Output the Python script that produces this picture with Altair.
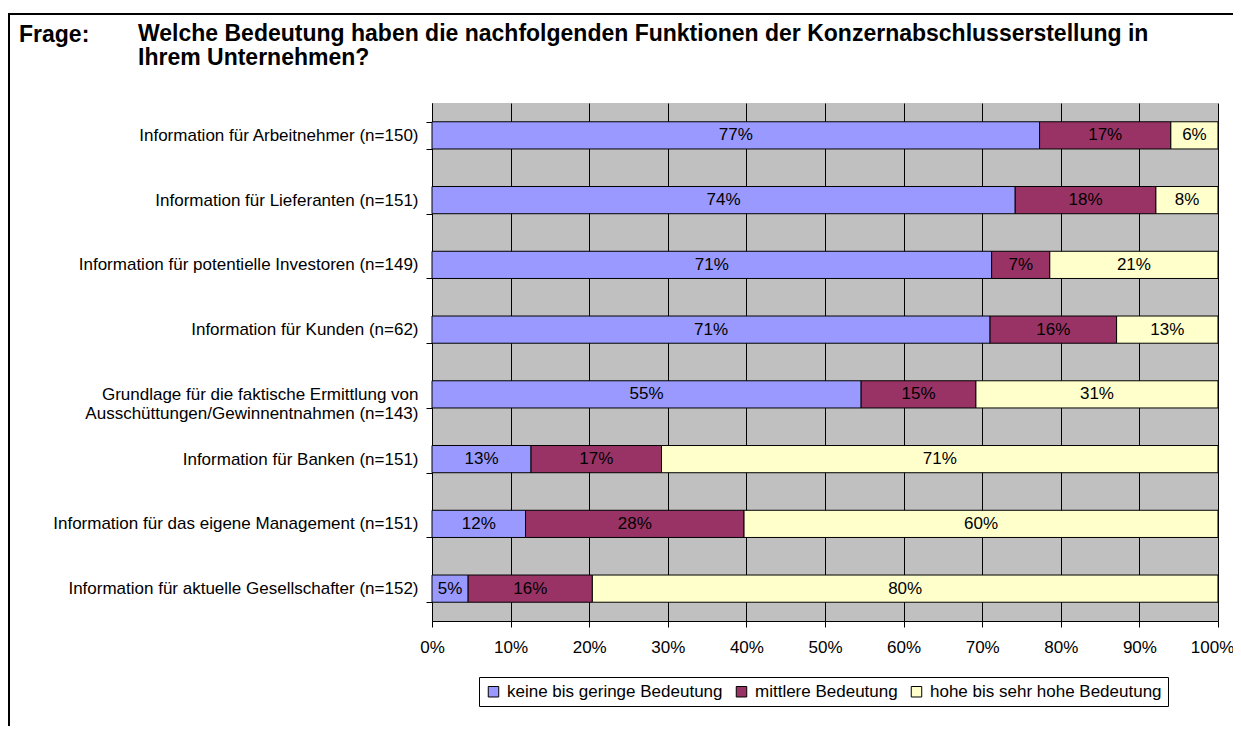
import altair as alt
import pandas as pd

categories = [
    "Information für Arbeitnehmer (n=150)",
    "Information für Lieferanten (n=151)",
    "Information für potentielle Investoren (n=149)",
    "Information für Kunden (n=62)",
    "Grundlage für die faktische Ermittlung von\nAusschüttungen/Gewinnentnahmen (n=143)",
    "Information für Banken (n=151)",
    "Information für das eigene Management (n=151)",
    "Information für aktuelle Gesellschafter (n=152)",
]
keine = [77.3, 74.2, 71.2, 71.0, 54.6, 12.6, 11.9, 4.6]
mittlere = [16.7, 17.9, 7.4, 16.1, 14.6, 16.6, 27.8, 15.8]
hohe = [6.0, 7.9, 21.4, 12.9, 30.8, 70.8, 60.3, 79.6]

series_names = ["keine bis geringe Bedeutung", "mittlere Bedeutung", "hohe bis sehr hohe Bedeutung"]
series_colors = ["#9999FF", "#993366", "#FFFFCC"]
x_ticks = [0, 10, 20, 30, 40, 50, 60, 70, 80, 90, 100]

frage_label = "Frage:"
question_lines = [
    "Welche Bedeutung haben die nachfolgenden Funktionen der Konzernabschlusserstellung in",
    "Ihrem Unternehmen?",
]

FONT = "Liberation Sans, Arial, Helvetica, sans-serif"

rows = []
for i, cat in enumerate(categories):
    for j, (name, vals) in enumerate(zip(series_names, [keine, mittlere, hohe])):
        rows.append({"cat": cat, "series": name, "order": j, "value": vals[i]})
df = pd.DataFrame(rows)

y_enc = alt.Y(
    "cat:N",
    sort=categories,
    scale=alt.Scale(paddingInner=0.58, paddingOuter=0.29),
    axis=alt.Axis(
        title=None,
        grid=False,
        domain=True,
        domainColor="black",
        domainWidth=1,
        ticks=True,
        tickBand="extent",
        tickSize=6,
        tickColor="black",
        labelFont=FONT,
        labelFontSize=17,
        labelColor="black",
        labelPadding=8,
        labelLimit=600,
        labelLineHeight=19,
        labelExpr="split(datum.label, '\\n')",
    ),
)

base = (
    alt.Chart(df)
    .transform_stack(
        stack="value",
        groupby=["cat"],
        as_=["x0", "x1"],
        sort=[alt.SortField("order", order="ascending")],
    )
    .transform_calculate(
        mid="(datum.x0 + datum.x1) / 2",
        lab="format(datum.value, '.0f') + '%'",
    )
)

bars = base.mark_bar(stroke="black", strokeWidth=1).encode(
    y=y_enc,
    x=alt.X(
        "x0:Q",
        scale=alt.Scale(domain=[0, 100], nice=False, zero=True),
        axis=alt.Axis(
            title=None,
            values=x_ticks,
            labelExpr="datum.value + '%'",
            grid=True,
            gridColor="black",
            gridWidth=1,
            domainColor="black",
            tickColor="black",
            tickSize=6,
            labelFont=FONT,
            labelFontSize=17,
            labelColor="black",
            labelPadding=12,
            labelFlush=False,
            labelOffset={"expr": "datum.value == 100 ? -6 : 0"},
        ),
    ),
    x2="x1:Q",
    color=alt.Color(
        "series:N",
        sort=series_names,
        scale=alt.Scale(domain=series_names, range=series_colors),
        legend=alt.Legend(
            title=None,
            orient="none",
            legendX=47,
            legendY=574,
            direction="horizontal",
            strokeColor="black",
            fillColor="white",
            padding=6,
            symbolType="square",
            symbolSize=110,
            symbolStrokeColor="black",
            symbolStrokeWidth=1,
            symbolOpacity=1,
            labelFont=FONT,
            labelFontSize=17,
            labelColor="black",
            labelOffset=5,
            columnPadding=10,
            labelLimit=400,
        ),
    ),
    order=alt.Order("order:Q"),
)

texts = base.mark_text(font=FONT, fontSize=17, color="black", baseline="middle").encode(
    y=alt.Y("cat:N", sort=categories),
    x=alt.X("mid:Q"),
    text="lab:N",
)

one = pd.DataFrame({"k": [0]})
border = alt.Chart(one).mark_rect(fill=None, stroke="black", strokeWidth=2).encode(
    x=alt.value(-423), x2=alt.value(830), y=alt.value(-89), y2=alt.value(720)
)
frage = alt.Chart(one).mark_text(
    font=FONT, fontSize=23, fontWeight="bold", align="left", baseline="alphabetic", color="black"
).encode(x=alt.value(-413), y=alt.value(-61), text=alt.value(frage_label))
question = alt.Chart(one).mark_text(
    font=FONT, fontSize=23, fontWeight="bold", align="left", baseline="alphabetic",
    color="black", lineHeight=24
).encode(x=alt.value(-294), y=alt.value(-62), text=alt.value(question_lines))

chart = (
    alt.layer(border, bars, texts, frage, question)
    .properties(
        width=786,
        height=518,
        autosize=alt.AutoSizeParams(type="none"),
        padding={"left": 424, "top": 95, "right": 15, "bottom": 105},
        background="white",
    )
    .configure_view(fill="#C0C0C0", strokeWidth=0)
)

chart.save("out.html", embed_options={"renderer": "svg", "actions": False})
